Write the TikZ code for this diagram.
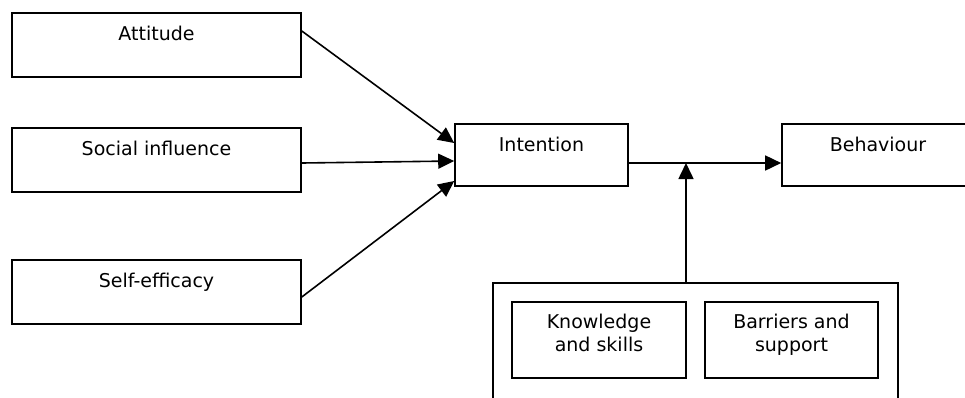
\documentclass[tikz,border=0pt]{standalone}
\usepackage{fontspec}
\setmainfont{DejaVu Sans}
\usetikzlibrary{arrows.meta}

\begin{document}
\begin{tikzpicture}[x=0.5pt,y=-0.5pt,line width=0.8pt,
	box/.style={draw,minimum width=#1,minimum height=32pt,inner sep=0pt},
	lbl/.style={anchor=base,align=center,inner sep=0pt,font=\fontsize{9.5}{11.5}\selectfont},
	arr/.style={-{Triangle[length=8pt,width=7.5pt]}}]
\useasboundingbox (0,0) rectangle (965,397);
\clip (0,0) rectangle (965,397);

%determinants
\foreach \name/\y/\txt in {att/45/Attitude,soc/160/Social influence,eff/292/Self-efficacy}{
	\node[box=144.5pt] (\name) at (156.5,\y) {};
	\node[lbl] (\name T) at ([yshift=-14pt]\name.north) {\txt};
}

%intention and behaviour
\node[box=86.5pt,minimum height=31pt] (int) at (541.5,155) {};
\node[lbl] (intT) at ([yshift=-14pt]int.north) {Intention};
\node[box=96pt,minimum height=31pt] (beh) at (878,155) {};
\node[lbl] (behT) at ([yshift=-14pt]beh.north) {Behaviour};

%moderators
\node[box=202.5pt,minimum height=68.5pt] (mod) at (695.5,351.5) {};
\node[box=87pt,minimum height=38pt] (know) at (599,340) {};
\node[lbl] (knowT) at ([yshift=-25pt]know.north) {Knowledge\\and skills};
\node[box=86.5pt,minimum height=38pt] (barr) at (791.5,340) {};
\node[lbl] (barrT) at ([yshift=-25pt]barr.north) {Barriers and\\support};

\coordinate (junc) at (686,163);

%edges
\draw[arr] ([yshift=7pt]att.east) -- ([yshift=6pt]int.west);
\draw[arr] ([yshift=-1.5pt]soc.east) -- ([yshift=-3pt]int.west);
\draw[arr] ([yshift=-2.5pt]eff.east) -- ([yshift=-13pt]int.west);
\draw[arr] ([yshift=-4pt]int.east) -- ([yshift=-4pt]beh.west);
\draw[arr] (mod.north -| junc) -- (junc);

\end{tikzpicture}
\end{document}
